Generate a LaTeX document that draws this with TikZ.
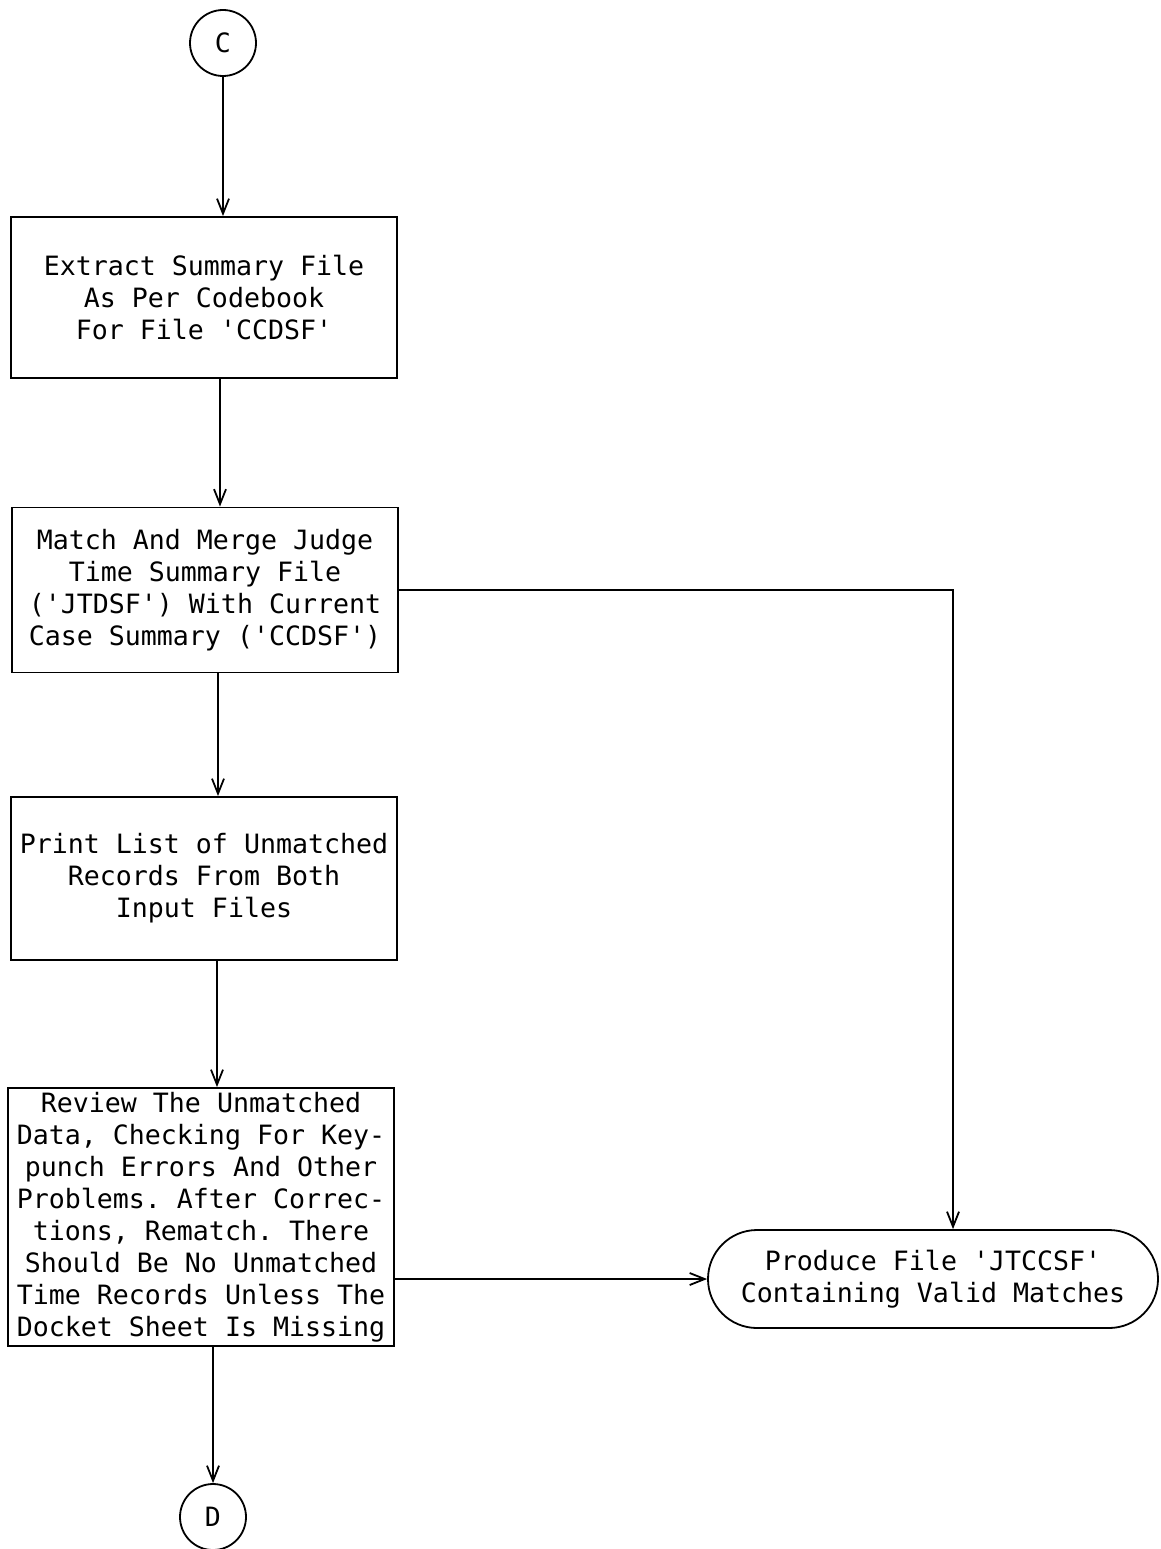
\documentclass[tikz,border=0pt]{standalone}
\usepackage{fontspec}
\setmonofont{DejaVu Sans Mono}
\usetikzlibrary{arrows.meta,shapes.misc,calc}
\begin{document}
\begin{tikzpicture}[x=1pt,y=-1pt,
  every node/.style={font=\ttfamily\fontsize{26.6}{32}\selectfont},
  procbox/.style={draw,line width=1.8pt,minimum width=386pt,inner sep=0pt,align=center},
  conn/.style={draw,line width=1.8pt,circle,minimum size=66pt,inner sep=0pt},
  term/.style={draw,line width=1.8pt,rounded rectangle,minimum width=450pt,minimum height=98pt,inner sep=0pt,align=center},
  arr/.style={line width=1.8pt,-{Straight Barb[length=15pt,width=12pt,line width=1.8pt]}}]
\useasboundingbox (0,0) rectangle (1160,1549);
\node[conn] (c) at (223,43) {C};
\node[procbox,minimum height=161pt] (b1) at (204,297.5) {Extract Summary File\\As Per Codebook\\For File 'CCDSF'};
\node[procbox,minimum height=165pt] (b2) at (205,590) {Match And Merge Judge\\Time Summary File\\('JTDSF') With Current\\Case Summary ('CCDSF')};
\node[procbox,minimum height=163pt] (b3) at (204,878.5) {Print List of Unmatched\\Records From Both\\Input Files};
\node[procbox,minimum height=258pt] (b4) at (201,1217) {Review The Unmatched\\Data, Checking For Key-\\punch Errors And Other\\Problems. After Correc-\\tions, Rematch. There\\Should Be No Unmatched\\Time Records Unless The\\Docket Sheet Is Missing};
\node[term] (t) at (933,1279) {Produce File 'JTCCSF'\\Containing Valid Matches};
\node[conn] (d) at (213,1517) {D};
\coordinate (k) at (953,590);
\draw[arr] (c) -- (c |- b1.north);
\draw[arr] ([xshift=16pt]b1.south) -- ([xshift=16pt]b1.south |- b2.north);
\draw[arr] ([xshift=13pt]b2.south) -- ([xshift=13pt]b2.south |- b3.north);
\draw[arr] ([xshift=13pt]b3.south) -- ([xshift=13pt]b3.south |- b4.north);
\draw[arr] ([xshift=12pt]b4.south) -- (d.north);
\draw[arr] (b2.east) -- (k) -- (k |- t.north);
\draw[arr] (b4.east |- t.west) -- (t.west);
\end{tikzpicture}
\end{document}
